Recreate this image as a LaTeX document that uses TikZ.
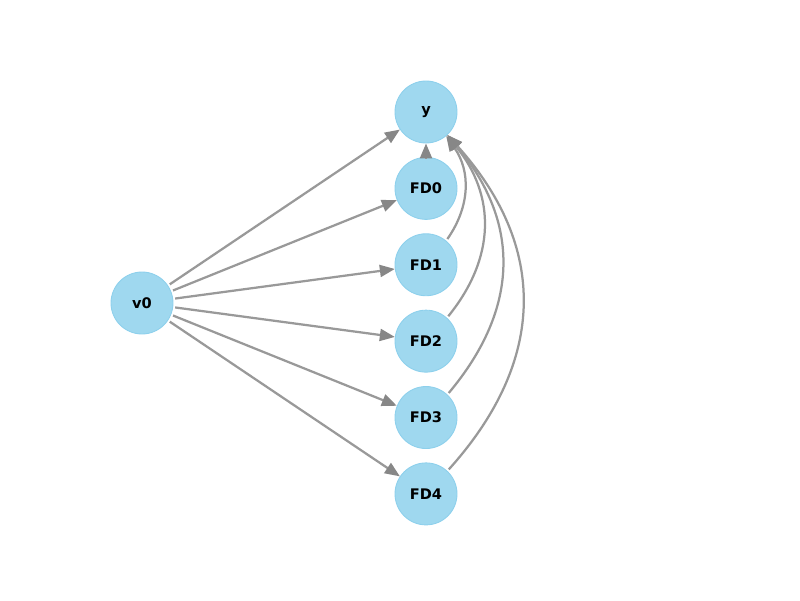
\documentclass[tikz,border=0pt]{standalone}
\usepackage{fontspec}
\newfontfamily\dejavu{DejaVu Sans}
\usetikzlibrary{arrows.meta,positioning}
\definecolor{nodefill}{HTML}{9FD8EF}
\definecolor{nodeline}{HTML}{8DD0EC}
\definecolor{edgegray}{HTML}{999999}
\definecolor{tipgray}{HTML}{878787}
\begin{document}
\begin{tikzpicture}[node distance=0.27cm,
  var/.style={circle,draw=nodeline,fill=nodefill,minimum size=1.24cm,inner sep=0pt,line width=0.5pt,font=\dejavu\bfseries\fontsize{8.3}{9}\selectfont},
  arrow/.style={-{Triangle[length=0.3cm,width=0.24cm,color=tipgray]},line width=0.045cm,color=edgegray,shorten <=0.04cm}]
\useasboundingbox (0,0) rectangle (16,12);
\node[var](y) at (8.52,9.76){y};
\node[var,below=of y](fd0){FD0};
\node[var,below=of fd0](fd1){FD1};
\node[var,below=of fd1](fd2){FD2};
\node[var,below=of fd2](fd3){FD3};
\node[var,below=of fd3](fd4){FD4};
\node[var](v0) at (2.84,5.94){v0};
\foreach \b in {y,fd0,fd1,fd2,fd3,fd4}
  \draw[arrow](v0)--(\b);
\draw[arrow](fd0)--(y);
% curved links into y
\foreach \a/\s/\o/\l in {fd1/50/55/1.04,fd2/48/51/1.09,fd3/47/50/1.12,fd4/47/48/1.14}
  \draw[arrow](\a.\s) to[out=\o,in=-\o,looseness=\l](y.-\s);
\end{tikzpicture}
\end{document}
